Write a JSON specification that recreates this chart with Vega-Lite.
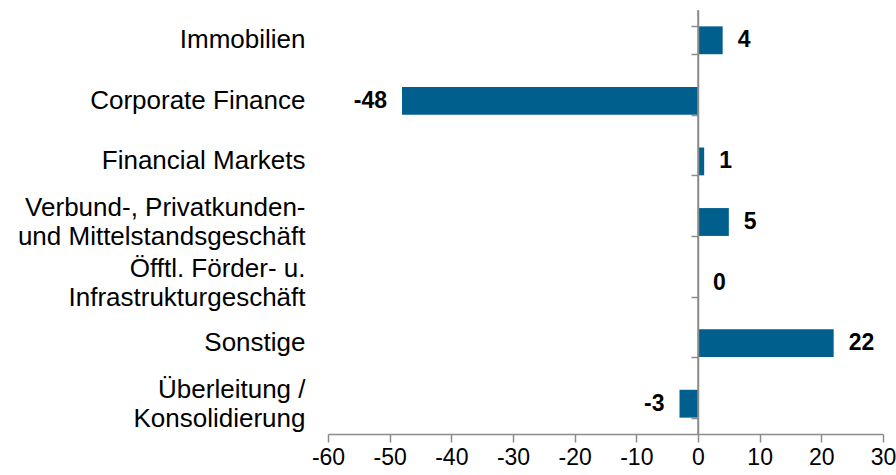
{
  "$schema": "https://vega.github.io/schema/vega-lite/v6.json",
  "width": 555,
  "height": 424,
  "autosize": {"type": "none"},
  "padding": {"left": 328, "top": 10, "right": 13, "bottom": 41},
  "background": "white",
  "config": {
    "view": {"stroke": null},
    "font": "Liberation Sans",
    "axis": {"labelFont": "Liberation Sans", "labelColor": "black", "grid": false}
  },
  "data": {
    "values": [
      {"cat": "Immobilien", "value": 4},
      {"cat": "Corporate Finance", "value": -48},
      {"cat": "Financial Markets", "value": 1},
      {"cat": "Verbund-, Privatkunden-|und Mittelstandsgeschäft", "value": 5},
      {"cat": "Öfftl. Förder- u.\u00a0\u00a0\u00a0\u00a0\u00a0|Infrastrukturgeschäft", "value": 0},
      {"cat": "Sonstige", "value": 22},
      {"cat": "Überleitung /\u00a0\u00a0|Konsolidierung", "value": -3}
    ]
  },
  "encoding": {
    "x": {
      "field": "value",
      "type": "quantitative",
      "scale": {"domain": [-60, 30], "nice": false, "zero": false},
      "axis": {
        "title": null,
        "values": [-60, -50, -40, -30, -20, -10, 0, 10, 20, 30],
        "labelExpr": "toString(datum.value)",
        "domainColor": "#8C8C8C",
        "domainWidth": 1.5,
        "tickColor": "#8C8C8C",
        "tickWidth": 1.5,
        "tickSize": 8,
        "labelFontSize": 23,
        "labelPadding": 4,
        "labelFlush": false,
        "labelOverlap": false
      }
    }
  },
  "layer": [
    {
      "mark": {"type": "bar", "color": "#005F8C"},
      "encoding": {
        "y": {
          "field": "cat",
          "type": "nominal",
          "sort": null,
          "scale": {"paddingInner": 0.54, "paddingOuter": 0.27},
          "axis": {
            "orient": "left",
            "title": null,
            "domain": false,
            "ticks": false,
            "labelFontSize": 26,
            "labelPadding": 23,
            "labelLimit": 400,
            "labelLineHeight": 29,
            "labelOffset": {"condition": {"test": "indexof(datum.value, '|') >= 0", "value": -14}, "value": 0},
            "labelExpr": "split(datum.label, '|')"
          }
        }
      }
    },
    {
      "data": {"values": [{"zero": 0}]},
      "mark": {"type": "rule", "color": "#8C8C8C", "strokeWidth": 1.5},
      "encoding": {
        "x": {"field": "zero", "type": "quantitative"}
      }
    },
    {
      "transform": [{"filter": "datum.value >= 0"}],
      "mark": {"type": "text", "align": "left", "baseline": "middle", "dx": 15, "fontSize": 23, "fontWeight": "bold", "color": "black"},
      "encoding": {
        "y": {
          "field": "cat",
          "type": "nominal",
          "sort": null,
          "axis": {
            "orient": "left",
            "offset": -370,
            "zindex": 1,
            "title": null,
            "labels": false,
            "domain": true,
            "domainColor": "#8C8C8C",
            "domainWidth": 1.5,
            "ticks": true,
            "tickBand": "extent",
            "tickColor": "#8C8C8C",
            "tickWidth": 1.5,
            "tickSize": 7
          }
        },
        "text": {"field": "value", "type": "nominal"}
      }
    },
    {
      "transform": [{"filter": "datum.value < 0"}],
      "mark": {"type": "text", "align": "right", "baseline": "middle", "dx": -15, "fontSize": 23, "fontWeight": "bold", "color": "black"},
      "encoding": {
        "y": {"field": "cat", "type": "nominal", "sort": null, "axis": null},
        "text": {"field": "value", "type": "nominal"}
      }
    }
  ],
  "resolve": {"axis": {"y": "independent"}}
}
